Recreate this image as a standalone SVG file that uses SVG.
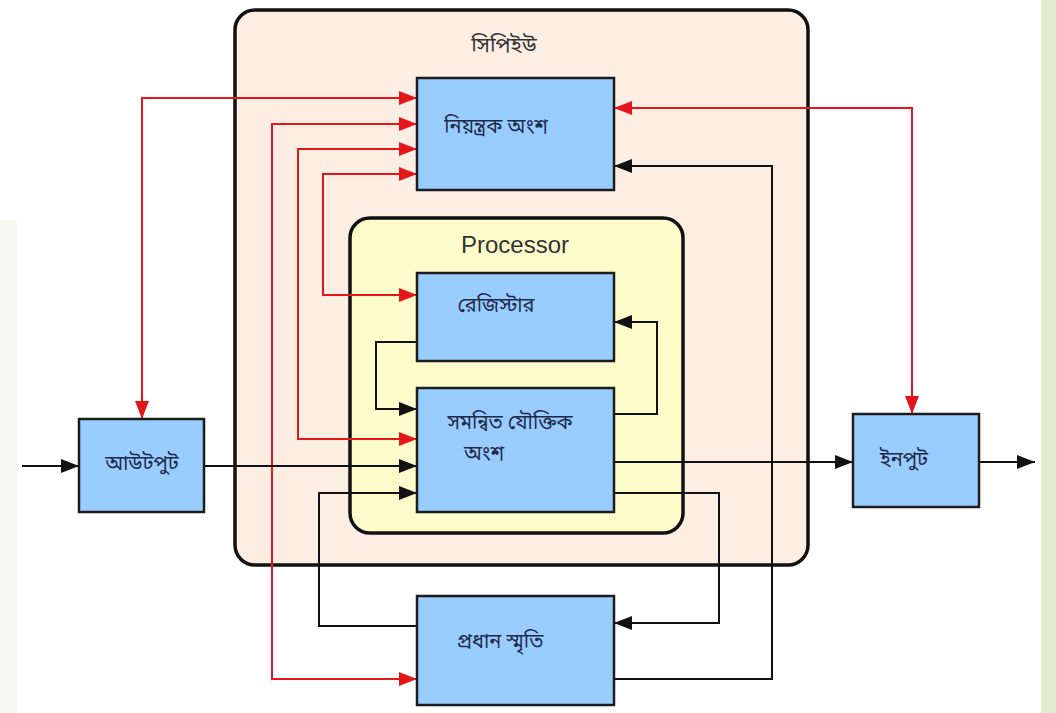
<svg xmlns="http://www.w3.org/2000/svg" width="1056" height="713" viewBox="0 0 1056 713">
<style>
.bg{fill:#ffffff}
.cpu{fill:#fdeee4;stroke:#111;stroke-width:3.5}
.proc{fill:#fffccc;stroke:#111;stroke-width:3.5}
.node{fill:#99ccff;stroke:#1c1c1c;stroke-width:2.5}
.lbl{font-family:"Noto Sans Bengali","Lohit Bengali","FreeSans","Noto Sans",sans-serif;font-size:20px;fill:#1e2a4a;text-anchor:middle;dominant-baseline:central}
.title{font-family:"Liberation Sans",Arial,sans-serif;font-size:24px;fill:#333;text-anchor:middle}
.red{fill:none;stroke:#e3161c;stroke-width:2;marker-end:url(#ar);marker-start:url(#ar)}
.blk{fill:none;stroke:#111;stroke-width:2;marker-end:url(#ab)}
</style>
<defs>
<marker id="ar" markerUnits="userSpaceOnUse" markerWidth="20" markerHeight="16" refX="18" refY="7" orient="auto-start-reverse"><path d="M0,0 L18,7 L0,14 z" fill="#e3161c"/></marker>
<marker id="ab" markerUnits="userSpaceOnUse" markerWidth="20" markerHeight="16" refX="18" refY="7" orient="auto"><path d="M0,0 L18,7 L0,14 z" fill="#111"/></marker>
</defs>
<rect class="bg" x="0" y="0" width="1056" height="713"/>
<rect x="0" y="220" width="17" height="493" fill="#f7f9f1"/>
<rect x="1041" y="0" width="15" height="713" fill="#e2e9cf"/>

<g id="cpu">
<rect class="cpu" x="235" y="10" width="573" height="555" rx="20"/>
<text class="lbl" x="504" y="47" style="fill:#333;font-size:21px">সিপিইউ</text>
</g>
<g id="processor">
<rect class="proc" x="350" y="218" width="333" height="315" rx="20"/>
<text class="title" x="515" y="253">Processor</text>
</g>

<g id="connectors">
<path class="red" d="M142,419 V98 H417"/>
<path class="red" d="M417,124 H272 V679 H417"/>
<path class="red" d="M417,149 H298 V439 H417"/>
<path class="red" d="M417,174 H323 V295 H417"/>
<path class="red" d="M614,108 H912 V414"/>
<path class="blk" d="M22,466 H79"/>
<path class="blk" d="M204,466 H417"/>
<path class="blk" d="M417,342 H376 V409 H417"/>
<path class="blk" d="M614,414 H657 V322 H614"/>
<path class="blk" d="M614,462 H853"/>
<path class="blk" d="M979,462 H1035"/>
<path class="blk" d="M614,493 H719 V623 H614"/>
<path class="blk" d="M417,626 H319 V493 H417"/>
<path class="blk" d="M614,679 H772 V166 H614"/>
</g>

<g id="control">
<rect class="node" x="417" y="78" width="197" height="112"/>
<text class="lbl" x="496" y="128">নিয়ন্ত্রক অংশ</text>
</g>
<g id="register">
<rect class="node" x="417" y="273" width="197" height="88"/>
<text class="lbl" x="496" y="307">রেজিস্টার</text>
</g>
<g id="alu">
<rect class="node" x="417" y="388" width="197" height="124"/>
<text class="lbl" x="510" y="424">সমন্বিত যৌক্তিক</text>
<text class="lbl" x="484" y="455">অংশ</text>
</g>
<g id="output">
<rect class="node" x="79" y="419" width="125" height="93"/>
<text class="lbl" x="142" y="465">আউটপুট</text>
</g>
<g id="input">
<rect class="node" x="853" y="414" width="126" height="93"/>
<text class="lbl" x="904" y="461">ইনপুট</text>
</g>
<g id="memory">
<rect class="node" x="417" y="596" width="197" height="109"/>
<text class="lbl" x="500" y="643">প্রধান স্মৃতি</text>
</g>
</svg>
